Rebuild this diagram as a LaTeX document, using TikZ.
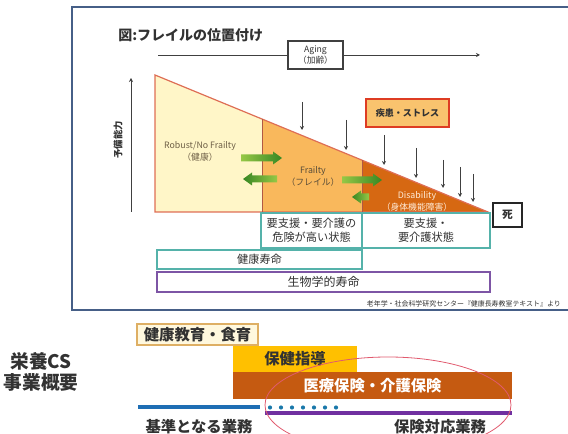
\documentclass[tikz,border=0pt]{standalone}
\usepackage{fontspec}
\setmainfont{Noto Sans CJK JP}
\usetikzlibrary{arrows.meta}
\definecolor{framec}{RGB}{70,95,135}
\definecolor{robustc}{RGB}{255,246,200}
\definecolor{frailc}{RGB}{249,184,92}
\definecolor{disabc}{RGB}{214,104,18}
\definecolor{tric}{RGB}{222,110,85}
\definecolor{stressfill}{RGB}{249,195,110}
\definecolor{stressdraw}{RGB}{222,60,35}
\definecolor{tealc}{RGB}{85,178,170}
\definecolor{purpc}{RGB}{125,85,165}
\definecolor{gdark}{RGB}{55,135,35}
\definecolor{glight}{RGB}{150,200,70}
\definecolor{eduFill}{RGB}{255,248,222}
\definecolor{eduDraw}{RGB}{222,175,100}
\definecolor{guideFill}{RGB}{255,192,0}
\definecolor{medFill}{RGB}{197,90,17}
\definecolor{blueline}{RGB}{30,110,180}
\definecolor{dotc}{RGB}{25,120,170}
\definecolor{purpline}{RGB}{112,48,160}
\definecolor{ellc}{RGB}{225,90,110}
\definecolor{txtc}{RGB}{50,50,50}
\definecolor{robtxt}{RGB}{110,95,70}
\tikzset{
  boxn/.style={draw, fill=white, inner sep=0pt, align=center, text=txtc},
  tealbox/.style={boxn, draw=tealc, line width=0.9pt, font=\fontsize{8.4pt}{10.5pt}\selectfont},
  purpbox/.style={boxn, draw=purpc, line width=0.9pt, font=\fontsize{9pt}{11pt}\selectfont},
  downarr/.style={-{Stealth[length=3pt,width=3pt]}, draw=black!75, line width=0.7pt},
  gright/.style={left color=glight, right color=gdark},
  gleft/.style={left color=gdark, right color=glight},
  bbox/.style={inner sep=0pt, align=center, font=\fontsize{11.5pt}{13pt}\selectfont\bfseries},
  tritxt/.style={align=center, inner sep=0pt, font=\fontsize{6.6pt}{9pt}\selectfont}
}
% right-pointing block arrow: tail x, tip x, y
\newcommand{\blockR}[3]{%
  \shade[gright] (#1,#3-3.5) -- (#2-9,#3-3.5) -- (#2-9,#3-6.5) -- (#2,#3) -- (#2-9,#3+6.5) -- (#2-9,#3+3.5) -- (#1,#3+3.5) -- cycle;}
% left-pointing block arrow: tip x, tail x, y
\newcommand{\blockL}[3]{%
  \shade[gleft] (#2,#3-3.5) -- (#1+9,#3-3.5) -- (#1+9,#3-6.5) -- (#1,#3) -- (#1+9,#3+6.5) -- (#1+9,#3+3.5) -- (#2,#3+3.5) -- cycle;}
\begin{document}
\begin{tikzpicture}[x=0.75pt,y=-0.75pt]
\useasboundingbox (0,0) rectangle (568,434);
\begin{scope}
\clip (0,0) rectangle (568,434);
\draw[framec, line width=1.6pt] (72,7) rectangle (580,310);
\end{scope}
% title
\node[anchor=west, inner sep=0pt, font=\fontsize{10.5pt}{12pt}\selectfont\bfseries, text=txtc] (title) at (118,35) {図:フレイルの位置付け};
% aging
\coordinate (agL) at (158,55);
\coordinate (agR) at (480,55);
\node[boxn, draw=black!75, line width=0.8pt, minimum width=41.25pt, minimum height=21pt, font=\fontsize{6.5pt}{8pt}\selectfont] (aging) at (315.5,55) {Aging\\（加齢）};
\draw[black!75, line width=0.7pt] (agL) -- (aging.west);
\draw[downarr] (aging.east) -- (agR);
% y axis
\coordinate (yb) at (131,212);
\coordinate (yt) at (131,78);
\draw[downarr] (yb) -- (yt);
\node[rotate=90, inner sep=0pt, font=\fontsize{7pt}{8pt}\selectfont\bfseries, text=txtc] (yaxis) at (118,140) {予備能力};
% triangle
\coordinate (tl) at (155,75);
\coordinate (bl) at (155,212);
\coordinate (apex) at (488,212);
\coordinate (d1t) at (262,119);
\coordinate (d1b) at (262,212);
\coordinate (d2t) at (362,160.2);
\coordinate (d2b) at (362,212);
\fill[robustc] (tl) -- (d1t) -- (d1b) -- (bl) -- cycle;
\fill[frailc] (d1t) -- (d2t) -- (d2b) -- (d1b) -- cycle;
\fill[disabc] (d2t) -- (apex) -- (d2b) -- cycle;
\draw[tric, line width=0.9pt] (tl) -- (apex) -- (bl) -- cycle;
\draw[tric!80!black, line width=0.7pt] (d1t) -- (d1b);
\draw[tric!80!black, line width=0.7pt] (d2t) -- (d2b);
% triangle texts
\node[tritxt, text=robtxt] (robust) at (200,151) {Robust/No Frailty\\（健康）};
\node[tritxt, text=robtxt!80!black] (frailty) at (313,176) {Frailty\\（フレイル）};
\node[tritxt, text=orange!15] (disab) at (417,201) {Disability\\（身体機能障害）};
% green block arrows
\blockR{241}{282}{158}
\blockL{243}{277}{179}
\blockR{342}{382}{180}
\blockL{352}{369}{197}
% stress box
\node[boxn, draw=stressdraw, fill=stressfill, line width=1pt, minimum width=62.25pt, minimum height=21pt, font=\fontsize{6.8pt}{8pt}\selectfont\bfseries] (stress) at (407.5,113) {疾患・ストレス};
% down arrows
\foreach \i/\xx/\ya/\yb in {1/302/102/130, 2/346/120/150, 3/384/135/165, 4/416/148/178, 5/443/160/188, 6/460/167/197, 7/473/174/202}{
  \coordinate (ds\i) at (\xx,\ya);
  \coordinate (de\i) at (\xx,\yb);
  \draw[downarr] (ds\i) -- (de\i);
}
% death box
\node[boxn, draw=black!85, line width=0.9pt, minimum width=21.75pt, minimum height=18pt, font=\fontsize{8pt}{9pt}\selectfont\bfseries] (death) at (507.5,215) {死};
% state boxes
\node[tealbox, minimum width=75.75pt, minimum height=26.25pt] (risk) at (311.5,230.5) {要支援・要介護の\\危険が高い状態};
\node[tealbox, minimum width=96pt, minimum height=26.25pt] (care) at (426,230.5) {要支援・\\要介護状態};
\node[tealbox, minimum width=153.75pt, minimum height=14.25pt] (hlife) at (259.5,259.5) {健康寿命};
\node[purpbox, minimum width=249.75pt, minimum height=15pt] (blife) at (323.5,282) {生物学的寿命};
% source
\node[anchor=east, inner sep=0pt, font=\fontsize{5.2pt}{6pt}\selectfont, text=txtc] (src) at (561,304) {老年学・社会科学研究センター『健康長寿教室テキスト』より};
% bottom section
\node[inner sep=0pt, align=center, font=\fontsize{14pt}{16pt}\selectfont\bfseries, text=txtc] (cs) at (41,372) {栄養CS\\事業概要};
\node[bbox, draw=eduDraw, fill=eduFill, line width=1pt, minimum width=90.75pt, minimum height=15.75pt, text=txtc] (edu) at (197.5,334.5) {健康教育・食育};
\node[bbox, fill=guideFill, minimum width=93pt, minimum height=19.5pt, text=txtc] (guide) at (295,359) {保健指導};
\node[bbox, fill=medFill, minimum width=209.25pt, minimum height=20.25pt, text=white] (med) at (372.5,385.5) {医療保険・介護保険};
\coordinate (bl1) at (138,407);
\coordinate (bl2) at (260,407);
\draw[blueline, line width=3pt] (bl1) -- (bl2);
\foreach \k in {0,...,6}{
  \fill[dotc] (270+\k*11,407.5) circle (2.1);
}
\coordinate (pl1) at (265,413);
\coordinate (pl2) at (512,413);
\draw[purpline, line width=2.4pt] (pl1) -- (pl2);
\node[inner sep=0pt, font=\fontsize{11.5pt}{13pt}\selectfont\bfseries, text=txtc] (base) at (199,427) {基準となる業務};
\node[inner sep=0pt, font=\fontsize{11.5pt}{13pt}\selectfont\bfseries, text=txtc] (ins) at (440,427) {保険対応業務};
\begin{scope}
\clip (0,0) rectangle (568,434);
\draw[ellc, line width=0.6pt] (388,405) ellipse [x radius=123, y radius=48];
\end{scope}
\end{tikzpicture}
\end{document}
